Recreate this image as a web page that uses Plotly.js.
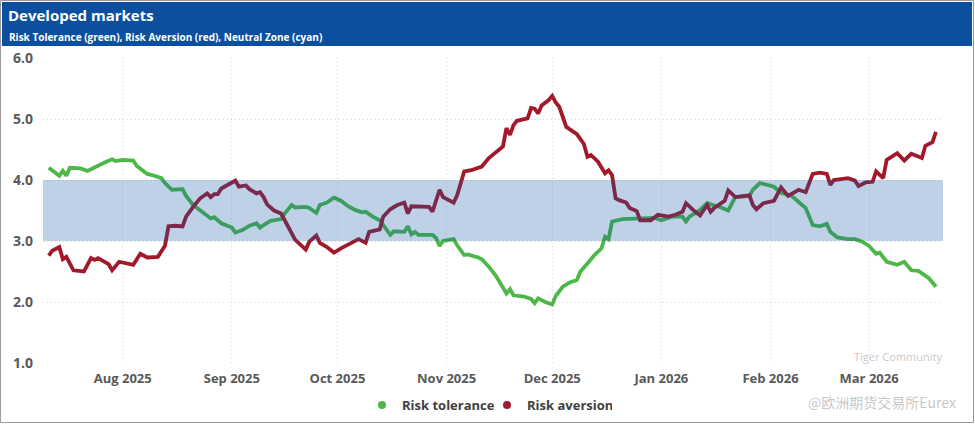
<!DOCTYPE html>
<html>
<head>
<meta charset="utf-8">
<script src="https://cdn.plot.ly/plotly-3.0.1.min.js"></script>
<style>
html,body{margin:0;padding:0;background:#fff;}
#chart{width:975px;height:424px;}
</style>
</head>
<body>
<div id="chart"></div>
<script>
// ---- Data ----
const greenDates = ['2025-07-11','2025-07-14','2025-07-15','2025-07-16','2025-07-17','2025-07-20','2025-07-22','2025-07-24','2025-07-25','2025-07-27','2025-07-29','2025-07-30',
'2025-08-01','2025-08-04','2025-08-05','2025-08-08','2025-08-10','2025-08-12','2025-08-13','2025-08-15','2025-08-18','2025-08-19','2025-08-21','2025-08-23','2025-08-25','2025-08-26','2025-08-27','2025-08-29',
'2025-09-01','2025-09-02','2025-09-04','2025-09-06','2025-09-08','2025-09-09','2025-09-10','2025-09-12','2025-09-15','2025-09-16','2025-09-18','2025-09-19','2025-09-22','2025-09-23','2025-09-25','2025-09-26','2025-09-28','2025-09-30',
'2025-10-02','2025-10-04','2025-10-06','2025-10-08','2025-10-09','2025-10-11','2025-10-13','2025-10-14','2025-10-16','2025-10-17','2025-10-20','2025-10-21','2025-10-22','2025-10-23','2025-10-24','2025-10-28','2025-10-29','2025-10-30','2025-10-31',
'2025-11-03','2025-11-04','2025-11-06','2025-11-07','2025-11-10','2025-11-11','2025-11-13','2025-11-15','2025-11-18','2025-11-19','2025-11-20','2025-11-23','2025-11-25','2025-11-26','2025-11-27','2025-11-29',
'2025-12-01','2025-12-02','2025-12-04','2025-12-06','2025-12-08','2025-12-09','2025-12-11','2025-12-13','2025-12-15','2025-12-16','2025-12-17','2025-12-18','2025-12-21','2025-12-24','2025-12-27','2025-12-30',
'2026-01-01','2026-01-04','2026-01-07','2026-01-08','2026-01-09','2026-01-12','2026-01-14','2026-01-16','2026-01-18','2026-01-20','2026-01-22','2026-01-26','2026-01-27','2026-01-29','2026-01-31',
'2026-02-02','2026-02-04','2026-02-07','2026-02-09','2026-02-11','2026-02-13','2026-02-15','2026-02-17','2026-02-18','2026-02-20','2026-02-23','2026-02-25','2026-02-27',
'2026-03-01','2026-03-03','2026-03-04','2026-03-06','2026-03-09','2026-03-11','2026-03-13','2026-03-15','2026-03-18','2026-03-20'];
const riskTolerance = [4.20,4.07,4.15,4.07,4.20,4.19,4.15,4.21,4.23,4.29,4.34,4.31,
4.33,4.32,4.23,4.10,4.07,4.03,3.95,3.84,3.85,3.74,3.59,3.50,3.42,3.37,3.39,3.29,
3.22,3.14,3.18,3.25,3.29,3.22,3.26,3.33,3.36,3.45,3.59,3.55,3.56,3.54,3.46,3.59,3.63,3.71,
3.66,3.57,3.51,3.47,3.48,3.40,3.34,3.26,3.10,3.16,3.15,3.24,3.11,3.15,3.10,3.10,3.05,2.92,3.00,
3.03,2.93,2.77,2.78,2.73,2.70,2.58,2.43,2.14,2.21,2.11,2.09,2.05,1.98,2.06,2.00,
1.96,2.10,2.25,2.32,2.36,2.50,2.63,2.77,2.88,3.07,3.03,3.32,3.36,3.37,3.38,3.38,
3.34,3.40,3.40,3.32,3.40,3.51,3.62,3.59,3.55,3.50,3.72,3.74,3.84,3.95,3.92,
3.89,3.79,3.74,3.64,3.54,3.26,3.24,3.28,3.15,3.06,3.03,3.03,2.99,
2.92,2.79,2.81,2.66,2.61,2.66,2.52,2.51,2.39,2.25];

const redDates = ['2025-07-11','2025-07-12','2025-07-14','2025-07-15','2025-07-16','2025-07-18','2025-07-21','2025-07-23','2025-07-24','2025-07-25','2025-07-28','2025-07-29','2025-07-31',
'2025-08-04','2025-08-06','2025-08-08','2025-08-11','2025-08-13','2025-08-14','2025-08-16','2025-08-18','2025-08-19','2025-08-21','2025-08-23','2025-08-25','2025-08-26','2025-08-27','2025-08-28','2025-08-29','2025-08-31',
'2025-09-02','2025-09-03','2025-09-05','2025-09-06','2025-09-08','2025-09-09','2025-09-10','2025-09-11','2025-09-13','2025-09-15','2025-09-17','2025-09-19','2025-09-22','2025-09-23','2025-09-25','2025-09-26','2025-09-28','2025-09-30',
'2025-10-02','2025-10-05','2025-10-07','2025-10-09','2025-10-10','2025-10-13','2025-10-14','2025-10-16','2025-10-18','2025-10-20','2025-10-21','2025-10-22','2025-10-24','2025-10-27','2025-10-28','2025-10-30','2025-10-31',
'2025-11-03','2025-11-04','2025-11-06','2025-11-08','2025-11-10','2025-11-11','2025-11-13','2025-11-15','2025-11-17','2025-11-18','2025-11-19','2025-11-20','2025-11-21','2025-11-24','2025-11-25','2025-11-26','2025-11-27','2025-11-28','2025-11-30',
'2025-12-01','2025-12-02','2025-12-03','2025-12-05','2025-12-08','2025-12-10','2025-12-11','2025-12-12','2025-12-14','2025-12-16','2025-12-17','2025-12-18','2025-12-19','2025-12-20','2025-12-22','2025-12-23','2025-12-25','2025-12-26','2025-12-29','2025-12-31',
'2026-01-03','2026-01-05','2026-01-07','2026-01-08','2026-01-10','2026-01-12','2026-01-14','2026-01-15','2026-01-16','2026-01-19','2026-01-20','2026-01-22','2026-01-26','2026-01-27','2026-01-28','2026-01-30',
'2026-02-02','2026-02-04','2026-02-06','2026-02-09','2026-02-11','2026-02-13','2026-02-15','2026-02-17','2026-02-18','2026-02-19','2026-02-23','2026-02-25','2026-02-26','2026-02-28',
'2026-03-02','2026-03-03','2026-03-05','2026-03-06','2026-03-09','2026-03-11','2026-03-13','2026-03-16','2026-03-17','2026-03-19','2026-03-20'];
const riskAversion = [2.76,2.84,2.90,2.70,2.74,2.52,2.50,2.72,2.69,2.72,2.62,2.52,2.66,
2.61,2.79,2.73,2.74,2.92,3.24,3.25,3.24,3.40,3.56,3.70,3.78,3.72,3.77,3.77,3.86,3.93,
3.99,3.89,3.91,3.85,3.78,3.80,3.72,3.60,3.50,3.45,3.24,3.02,2.86,2.99,3.09,2.97,2.90,2.81,
2.88,2.96,3.03,2.97,3.15,3.19,3.40,3.52,3.59,3.63,3.45,3.57,3.56,3.56,3.48,3.84,3.72,
3.63,3.75,4.14,4.16,4.21,4.22,4.36,4.46,4.55,4.85,4.74,4.90,4.97,5.01,5.18,5.17,5.09,5.22,5.31,
5.38,5.27,5.20,4.87,4.75,4.59,4.38,4.41,4.30,4.11,4.16,4.08,3.70,3.67,3.63,3.54,3.49,3.34,3.34,3.43,
3.40,3.43,3.48,3.62,3.51,3.42,3.59,3.48,3.54,3.66,3.83,3.72,3.75,3.59,3.52,3.62,
3.66,3.88,3.74,3.84,3.80,4.10,4.12,4.10,3.92,4.00,4.03,3.99,3.90,3.96,
3.97,4.14,4.03,4.33,4.44,4.32,4.43,4.36,4.56,4.62,4.79];

const seriesNames = ['Risk tolerance','Risk aversion'];
const neutralZone = [3, 4];
const yTicks = [1, 2, 3, 4, 5, 6];

// ---- Styles ----
const GREEN = '#4db848';
const RED = '#a3192c';
const HEADER = '#0b4f9e';
const FONT = '"Open Sans", "Noto Sans", sans-serif';

// plot area in pixels (for paper-coordinate decorations)
const W = 975, H = 424, L = 43, R = 32, T = 58, B = 61;
const pw = W - L - R, ph = H - T - B;
const px = v => (v - L) / pw;
const py = v => (H - B - v) / ph;

const traces = [
  {x: greenDates, y: riskTolerance, type: 'scatter', mode: 'lines', name: seriesNames[0],
   line: {color: GREEN, width: 3.8}, showlegend: false, hoverinfo: 'x+y'},
  {x: redDates, y: riskAversion, type: 'scatter', mode: 'lines', name: seriesNames[1],
   line: {color: RED, width: 3.8}, showlegend: false, hoverinfo: 'x+y'},
  {x: [null], y: [null], type: 'scatter', mode: 'markers', name: seriesNames[0],
   marker: {color: GREEN, size: 8}, showlegend: true},
  {x: [null], y: [null], type: 'scatter', mode: 'markers', name: seriesNames[1],
   marker: {color: RED, size: 8}, showlegend: true}
];

const GRID = {showgrid: true, gridcolor: '#d9d9d9', griddash: '1px,3px', gridwidth: 1};

const layout = {
  width: W, height: H,
  margin: {l: L, r: R, t: T, b: B, pad: 0, autoexpand: false},
  paper_bgcolor: '#ffffff', plot_bgcolor: '#ffffff',
  font: {family: FONT, color: '#595959'},
  title: {text: '<b>Developed markets</b>', x: 8 / W, xanchor: 'left', xref: 'container',
          y: 1 - 16 / H, yanchor: 'middle', yref: 'container',
          font: {family: FONT, size: 15, color: '#ffffff'}},
  xaxis: Object.assign({
    type: 'date',
    range: ['2025-07-09 08:40', '2026-03-22 00:00'],
    tick0: '2025-08-01', dtick: 'M1', tickformat: '%b %Y',
    zeroline: false, showline: false, ticks: '',
    ticklabelstandoff: 6,
    tickfont: {family: FONT, size: 13, color: '#595959', weight: 'bold'}
  }, GRID),
  yaxis: Object.assign({
    range: [1, 6], tickvals: yTicks, tickformat: '.1f',
    zeroline: false, showline: false, ticks: '',
    ticklabelstandoff: 9,
    tickfont: {family: FONT, size: 14, color: '#595959', weight: 'bold'}
  }, GRID),
  showlegend: true,
  legend: {orientation: 'h', x: px(487), xanchor: 'center', y: py(405), yanchor: 'middle',
           font: {family: FONT, size: 13, color: '#404040', weight: 'bold'},
           itemwidth: 30, entrywidth: 80, entrywidthmode: 'pixels',
           tracegroupgap: 0, bgcolor: 'rgba(0,0,0,0)'},
  shapes: [
    // outer border
    {type: 'rect', xref: 'paper', yref: 'paper', x0: px(0.5), x1: px(973.5), y0: py(422.5), y1: py(0.5),
     line: {color: '#9a9a9a', width: 1}, fillcolor: 'rgba(0,0,0,0)', layer: 'below'},
    // header bar
    {type: 'rect', xref: 'paper', yref: 'paper', x0: px(2), x1: px(972), y0: py(46), y1: py(2),
     line: {width: 0}, fillcolor: HEADER, layer: 'below'},
    // neutral zone band
    {type: 'rect', xref: 'paper', yref: 'y', x0: 0, x1: 1, y0: neutralZone[0], y1: neutralZone[1],
     line: {width: 0}, fillcolor: 'rgba(16,84,162,0.27)', layer: 'above'}
  ],
  annotations: [
    {text: '<b>Risk Tolerance (green), Risk Aversion (red), Neutral Zone (cyan)</b>',
     xref: 'paper', yref: 'paper', x: px(7), y: py(37), xanchor: 'left', yanchor: 'middle',
     showarrow: false, font: {family: FONT, size: 10, color: '#ffffff'}},
    {text: 'Tiger Community', xref: 'paper', yref: 'paper', x: px(852), y: py(356),
     xanchor: 'left', yanchor: 'middle', showarrow: false,
     font: {family: FONT, size: 11, color: 'rgba(150,150,150,0.55)'}},
    {text: '@欧洲期货交易所Eurex', xref: 'paper', yref: 'paper', x: px(958), y: py(402),
     xanchor: 'right', yanchor: 'middle', showarrow: false,
     font: {family: '"Noto Sans CJK SC", sans-serif', size: 14, color: 'rgba(150,150,150,0.55)'}}
  ]
};

Plotly.newPlot('chart', traces, layout, {displayModeBar: false, staticPlot: true});
</script>
</body>
</html>
